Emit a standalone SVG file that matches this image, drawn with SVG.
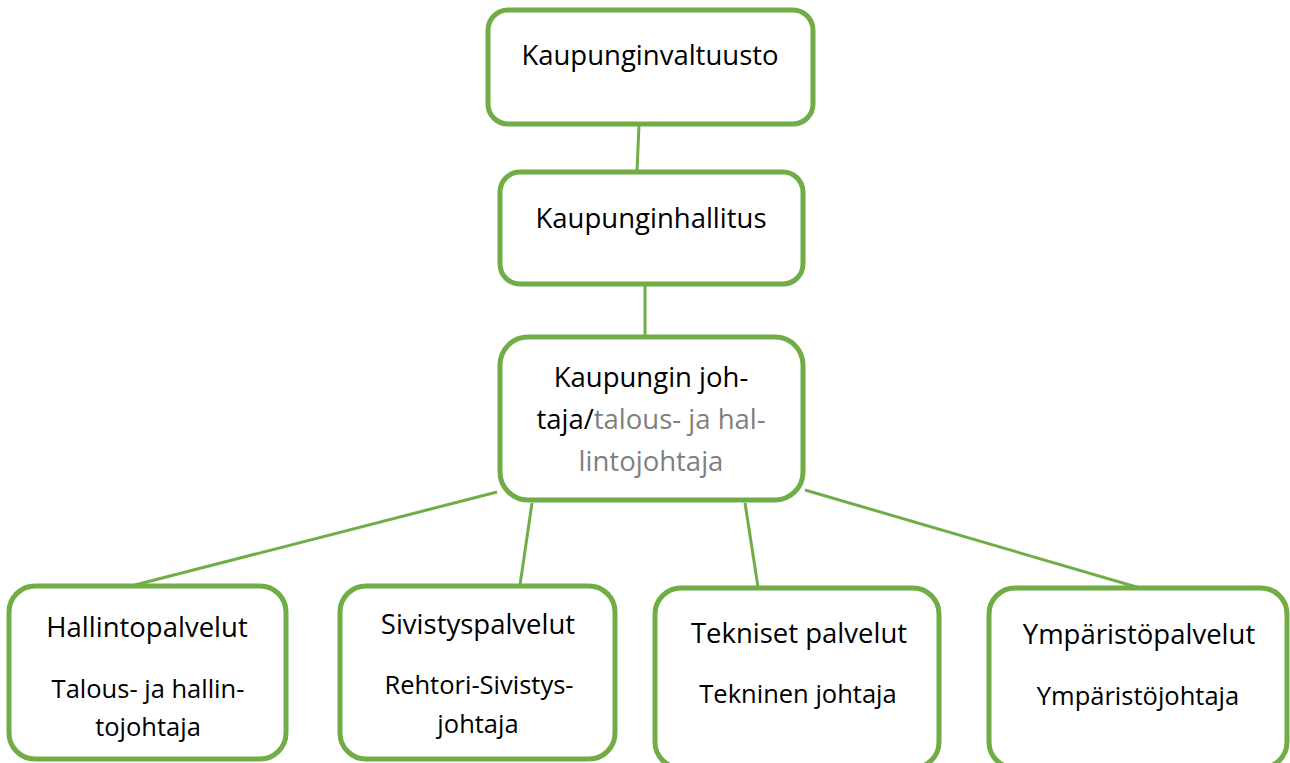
<svg xmlns="http://www.w3.org/2000/svg" width="1290" height="763" viewBox="0 0 1290 763">
<style>
.box{fill:#fff;stroke:#70AD47;stroke-width:5}
.con{stroke:#70AD47;stroke-width:3;fill:none}
.t{font-family:"Open Sans","Liberation Sans",sans-serif;fill:#000;text-anchor:middle}
.h{font-size:27.5px}
.s{font-size:25.5px}
.g{fill:#7F7F7F}
</style>
<rect width="1290" height="763" fill="#fff"/>
<g id="connectors">
<line class="con" x1="639" y1="125" x2="637" y2="171"/>
<line class="con" x1="645" y1="285" x2="645" y2="336"/>
<line class="con" x1="497" y1="492" x2="135" y2="585"/>
<line class="con" x1="532" y1="503" x2="520" y2="585"/>
<line class="con" x1="745" y1="503" x2="758" y2="587"/>
<line class="con" x1="805" y1="490" x2="1140" y2="588"/>
</g>
<g id="n1">
<rect class="box" x="488" y="10" width="325" height="114" rx="20"/>
<text class="t h" x="650" y="65">Kaupunginvaltuusto</text>
</g>
<g id="n2">
<rect class="box" x="500" y="172" width="303" height="112" rx="20"/>
<text class="t h" x="651" y="228">Kaupunginhallitus</text>
</g>
<g id="n3">
<rect class="box" x="500" y="337" width="303" height="163" rx="28"/>
<text class="t h" x="651" y="387">Kaupungin joh-</text>
<text class="t h" x="651" y="429">taja/<tspan class="g">talous- ja hal-</tspan></text>
<text class="t h g" x="651" y="471">lintojohtaja</text>
</g>
<g id="n4">
<rect class="box" x="9" y="586" width="277" height="173" rx="26"/>
<text class="t h" x="147" y="637">Hallintopalvelut</text>
<text class="t s" x="148" y="698">Talous- ja hallin-</text>
<text class="t s" x="148" y="736">tojohtaja</text>
</g>
<g id="n5">
<rect class="box" x="340" y="586" width="275" height="173" rx="26"/>
<text class="t h" x="478" y="634">Sivistyspalvelut</text>
<text class="t s" x="479" y="694">Rehtori-Sivistys-</text>
<text class="t s" x="478" y="733">johtaja</text>
</g>
<g id="n6">
<rect class="box" x="655" y="588" width="284" height="180" rx="26"/>
<text class="t h" x="799" y="643">Tekniset palvelut</text>
<text class="t s" x="798" y="703">Tekninen johtaja</text>
</g>
<g id="n7">
<rect class="box" x="989" y="588" width="298" height="180" rx="26"/>
<text class="t h" x="1139" y="644">Ympäristöpalvelut</text>
<text class="t s" x="1138" y="705">Ympäristöjohtaja</text>
</g>
</svg>
